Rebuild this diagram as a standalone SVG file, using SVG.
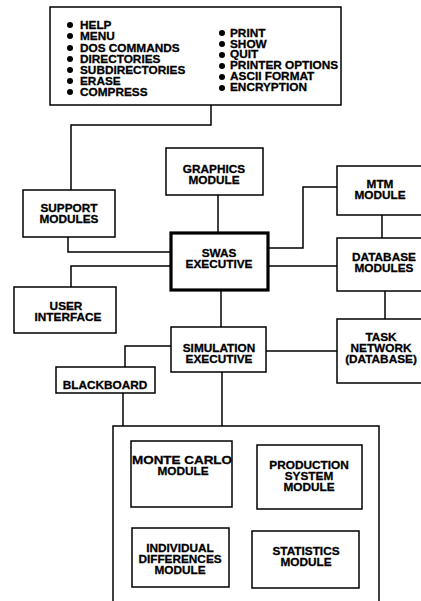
<svg xmlns="http://www.w3.org/2000/svg" width="421" height="601" viewBox="0 0 421 601">
  <style>
    .box { fill: #fff; stroke: #000; stroke-width: 1.5; }
    .thick { fill: #fff; stroke: #000; stroke-width: 3.2; }
    .wire { fill: none; stroke: #000; stroke-width: 1.5; }
    text { font-family: "Liberation Sans", Arial, sans-serif; font-weight: bold; font-size: 11.8px; fill: #000; stroke: #000; stroke-width: 0.3; }
    .c { text-anchor: middle; }
    .dot { fill: #000; }
  </style>
  <rect width="421" height="601" fill="#fff"/>

  <!-- connectors -->
  <g id="connectors">
    <polyline class="wire" points="211,105 211,125 71,125 71,190"/>
    <line class="wire" x1="218" y1="195" x2="218" y2="233"/>
    <polyline class="wire" points="68,237 68,252 171,252"/>
    <polyline class="wire" points="171,266 71,266 71,287"/>
    <polyline class="wire" points="268,248 303,248 303,187 337,187"/>
    <line class="wire" x1="268" y1="266" x2="337" y2="266"/>
    <line class="wire" x1="382" y1="215" x2="382" y2="238"/>
    <line class="wire" x1="385" y1="291" x2="385" y2="319"/>
    <line class="wire" x1="221" y1="290" x2="221" y2="327"/>
    <line class="wire" x1="266" y1="351" x2="337" y2="351"/>
    <polyline class="wire" points="171,346 125,346 125,367"/>
    <line class="wire" x1="123" y1="393" x2="123" y2="426"/>
    <line class="wire" x1="222" y1="372" x2="222" y2="426"/>
  </g>

  <!-- support command list -->
  <g id="commands">
    <rect class="box" x="50" y="7" width="291" height="98"/>
    <g class="dot">
      <circle cx="70" cy="25" r="3"/>
      <circle cx="70" cy="36" r="3"/>
      <circle cx="70" cy="48" r="3"/>
      <circle cx="70" cy="59" r="3"/>
      <circle cx="70" cy="70" r="3"/>
      <circle cx="70" cy="81" r="3"/>
      <circle cx="70" cy="92" r="3"/>
      <circle cx="222" cy="33" r="3"/>
      <circle cx="222" cy="44" r="3"/>
      <circle cx="222" cy="55" r="3"/>
      <circle cx="222" cy="66" r="3"/>
      <circle cx="222" cy="77" r="3"/>
      <circle cx="222" cy="88" r="3"/>
    </g>
    <text x="80" y="29">HELP</text>
    <text x="80" y="40">MENU</text>
    <text x="80" y="52">DOS COMMANDS</text>
    <text x="80" y="63">DIRECTORIES</text>
    <text x="80" y="74">SUBDIRECTORIES</text>
    <text x="80" y="85">ERASE</text>
    <text x="80" y="96">COMPRESS</text>
    <text x="230" y="37">PRINT</text>
    <text x="230" y="48">SHOW</text>
    <text x="230" y="58">QUIT</text>
    <text x="230" y="69">PRINTER OPTIONS</text>
    <text x="230" y="80">ASCII FORMAT</text>
    <text x="230" y="91">ENCRYPTION</text>
  </g>

  <g id="graphics">
    <rect class="box" x="166" y="148" width="97" height="47"/>
    <text class="c" x="214" y="173">GRAPHICS</text>
    <text class="c" x="214" y="184">MODULE</text>
  </g>

  <g id="support">
    <rect class="box" x="23" y="190" width="92" height="47"/>
    <text class="c" x="69" y="212">SUPPORT</text>
    <text class="c" x="69" y="223">MODULES</text>
  </g>

  <g id="swas">
    <rect class="thick" x="171" y="233" width="97" height="57"/>
    <text class="c" x="219" y="257">SWAS</text>
    <text class="c" x="219" y="268">EXECUTIVE</text>
  </g>

  <g id="mtm">
    <rect class="box" x="337" y="166" width="90" height="49"/>
    <text class="c" x="380" y="188">MTM</text>
    <text class="c" x="380" y="199">MODULE</text>
  </g>

  <g id="database">
    <rect class="box" x="337" y="238" width="90" height="53"/>
    <text class="c" x="384" y="261">DATABASE</text>
    <text class="c" x="384" y="272">MODULES</text>
  </g>

  <g id="user-interface">
    <rect class="box" x="14" y="287" width="102" height="46"/>
    <text class="c" x="66" y="310">USER</text>
    <text class="c" x="68" y="321">INTERFACE</text>
  </g>

  <g id="simulation">
    <rect class="box" x="171" y="327" width="95" height="45"/>
    <text class="c" x="219" y="352">SIMULATION</text>
    <text class="c" x="219" y="363">EXECUTIVE</text>
  </g>

  <g id="task-network">
    <rect class="box" x="337" y="319" width="90" height="64"/>
    <text class="c" x="381" y="341">TASK</text>
    <text class="c" x="381" y="352">NETWORK</text>
    <text class="c" x="381" y="363">(DATABASE)</text>
  </g>

  <g id="blackboard">
    <rect class="box" x="56" y="367" width="99" height="26"/>
    <text class="c" x="105" y="389">BLACKBOARD</text>
  </g>

  <!-- simulation components -->
  <g id="simulation-modules">
    <rect class="box" x="113" y="426" width="266" height="180"/>
  </g>

  <g id="monte-carlo">
    <rect class="box" x="131" y="441" width="101" height="66"/>
    <text x="132" y="464" textLength="100" lengthAdjust="spacingAndGlyphs">MONTE CARLO</text>
    <text class="c" x="183" y="475">MODULE</text>
  </g>

  <g id="production">
    <rect class="box" x="257" y="445" width="105" height="64"/>
    <text class="c" x="309" y="469">PRODUCTION</text>
    <text class="c" x="309" y="480">SYSTEM</text>
    <text class="c" x="309" y="491">MODULE</text>
  </g>

  <g id="individual">
    <rect class="box" x="132" y="528" width="97" height="59"/>
    <text class="c" x="180" y="552">INDIVIDUAL</text>
    <text class="c" x="180" y="563">DIFFERENCES</text>
    <text class="c" x="180" y="574">MODULE</text>
  </g>

  <g id="statistics">
    <rect class="box" x="252" y="531" width="107" height="57"/>
    <text class="c" x="306" y="555">STATISTICS</text>
    <text class="c" x="306" y="566">MODULE</text>
  </g>
</svg>
